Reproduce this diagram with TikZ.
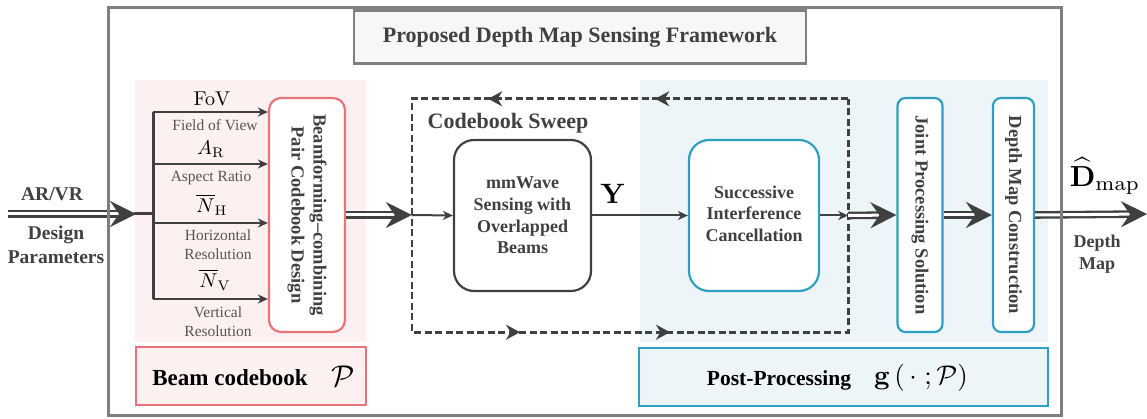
\documentclass[tikz,border=0pt]{standalone}
\usepackage{amsmath}
\usepackage[no-math]{fontspec}
\setmainfont{Liberation Serif}
\usetikzlibrary{arrows.meta,decorations.markings}
\definecolor{dg}{HTML}{404040}
\definecolor{framec}{HTML}{7F7F7F}
\definecolor{pinkb}{HTML}{E8737B}
\definecolor{pinkf}{HTML}{FDF0F0}
\definecolor{tealb}{HTML}{2E9FC0}
\definecolor{bluef}{HTML}{EEF5F9}
\definecolor{lblc}{HTML}{555555}
\definecolor{titlef}{HTML}{F7F7F7}
\begin{document}
\begin{tikzpicture}[x=1pt,y=-1pt,
  arr/.style={draw=dg, line width=2pt, -{Stealth[length=10pt,width=9pt,inset=3pt]}},
  dbl/.style={draw=dg, line width=2.3pt, double=white, double distance=3pt, -{Stealth[length=26pt,width=26pt,inset=9pt]}},
  rbox/.style={draw, line width=2.2pt, fill=white, rounded corners=12pt},
  tbox/.style={rbox, draw=tealb, rounded corners=8pt},
  btxt/.style={font=\fontsize{18}{21.6}\selectfont\bfseries, text=dg, align=center},
  lbl/.style={font=\fontsize{15.5}{19}\selectfont, text=lblc, align=center},
  mlbl/.style={font=\normalsize, scale=2.0, inner sep=1pt, text=black},
  rot/.style={btxt, rotate=-90, font=\fontsize{18.5}{22}\selectfont\bfseries},
  swtip/.tip={Stealth[length=14pt,width=15pt,inset=4.5pt]},
  sweepmarks/.style={postaction={decorate}, decoration={markings,
     mark=at position 193pt with {\arrow{swtip}},
     mark=at position 360pt with {\arrow{swtip}},
     mark=at position 778pt with {\arrow{swtip}},
     mark=at position 928pt with {\arrow{swtip}}}}
]
\useasboundingbox (0,0) rectangle (1147,419);
% background regions
\fill[pinkf] (135,80) rectangle (366,342);
\fill[bluef] (640,80) rectangle (1048,342);
% title
\node[draw=framec, line width=2.5pt, fill=titlef, minimum width=452, minimum height=53, text=dg,
  font=\fontsize{22}{26}\selectfont\bfseries] (title) at (580,37) {Proposed Depth Map Sensing Framework};
% bottom labels
\node[draw=pinkb, line width=2.2pt, fill=pinkf, minimum width=230, minimum height=58] (beam) at (251,376) {};
\node[font=\fontsize{23}{27}\selectfont\bfseries] (beamt) at (230,378) {Beam codebook};
\node[font=\normalsize, scale=3.0, inner sep=1pt] (beamp) at (343,376) {$\mathcal{P}$};
\node[draw=tealb, line width=2.2pt, fill=bluef, minimum width=409, minimum height=58] (post) at (843.5,377) {};
\node[font=\fontsize{21.5}{25}\selectfont\bfseries] (postt) at (779,380) {Post-Processing};
\node[font=\normalsize, scale=2.7, inner sep=1pt] (postg) at (921,378) {$\mathbf{g}\left(\,\cdot\;;\mathcal{P}\right)$};
% boxes
\node[rbox, draw=pinkb, minimum width=76, minimum height=234] (bf) at (307,215) {};
\node[rot] (bft) at (bf.center) {Beamforming--combining\\Pair Codebook Design};
\node[rbox, draw=dg, minimum width=137, minimum height=151, rounded corners=20pt] (mm) at (522.5,215.5) {};
\node[btxt] (mmt) at (mm.center) {mmWave\\Sensing with\\Overlapped\\Beams};
\node[tbox, minimum width=130, minimum height=151, rounded corners=20pt] (sic) at (754,215.5) {};
\node[btxt] (sict) at ([yshift=2]sic.center) {Successive\\Interference\\Cancellation};
\node[tbox, minimum width=45, minimum height=234] (jp) at (920,215) {};
\node[rot] (jpt) at (jp.center) {Joint Processing Solution};
\node[tbox, minimum width=41, minimum height=234] (dm) at (1013.5,215) {};
\node[rot] (dmt) at (dm.center) {Depth Map Construction};
% sweep dashed box
\node[minimum width=436, minimum height=233, inner sep=0] (sweep) at (630,215.5) {};
\draw[dg, line width=2.6pt, dash pattern=on 7pt off 3.5pt, sweepmarks]
  (sweep.north east) -- (sweep.north west) -- (sweep.south west) -- (sweep.south east) -- cycle;
\node[font=\fontsize{22}{26}\selectfont\bfseries, text=dg] (sweept) at (508,123) {Codebook Sweep};
% input side
\coordinate (in) at (8,214);
\coordinate (bus) at (153,214);
\coordinate (b1) at (153,112);
\coordinate (b2) at (153,164);
\coordinate (b3) at (153,223);
\coordinate (b4) at (153,299);
\draw[dbl] (in) -- (136,214);
\draw[dg, line width=3pt] (134,214) -- (bus);
\draw[dg, line width=3pt] (b1) -- (b4);
\draw[arr] (b1) -- (b1 -| bf.west);
\draw[arr] (b2) -- (b2 -| bf.west);
\draw[arr] (b3) -- (b3 -| bf.west);
\draw[arr] (b4) -- (b4 -| bf.west);
\node[font=\fontsize{19.5}{24}\selectfont\bfseries, text=dg] (arvr) at (52,194) {AR/VR};
\node[font=\fontsize{19.5}{24}\selectfont\bfseries, text=dg, align=center] (dp) at (56,245) {Design\\Parameters};
% parameter labels
\node[mlbl] (fov) at (212,99) {$\mathrm{FoV}$};
\node[lbl] (fovl) at (215,125) {Field of View};
\node[mlbl] (ar) at (211,149) {$A_{\mathrm{R}}$};
\node[lbl] (arl) at (211,178) {Aspect Ratio};
\node[mlbl] (nh) at (212,205) {$\overline{N}_{\mathrm{H}}$};
\node[lbl] (nhl) at (218,244.5) {Horizontal\\Resolution};
\node[mlbl] (nv) at (215,280) {$\overline{N}_{\mathrm{V}}$};
\node[lbl] (nvl) at (218,321.5) {Vertical\\Resolution};
% main flow
\draw[dbl] (bf.east) -- (bf.east -| sweep.west);
\draw[arr] (bf.east -| sweep.west) -- (mm.west);
\draw[arr] (mm.east) -- (sic.west);
\node[font=\normalsize, scale=2.8, inner sep=0pt] (y) at (613,194) {$\mathbf{Y}$};
\draw[arr] (sic.east) -- (sic.east -| sweep.east);
\draw[dbl] (sic.east -| sweep.east) -- (jp.west);
\draw[dbl] (jp.east) -- (dm.west);
\coordinate (out) at (1147,214);
\draw[dbl] (dm.east) -- (out);
% outer frame
\draw[framec, line width=3pt] (108,8) rectangle (1061,415);
\node[font=\normalsize, scale=2.9, inner sep=0pt] (dmap) at (1105,176) {$\widehat{\mathbf{D}}_{\mathrm{map}}$};
\node[font=\fontsize{18}{22}\selectfont\bfseries, text=dg, align=center] (dml) at (1097,254) {Depth\\Map};
\end{tikzpicture}
\end{document}
